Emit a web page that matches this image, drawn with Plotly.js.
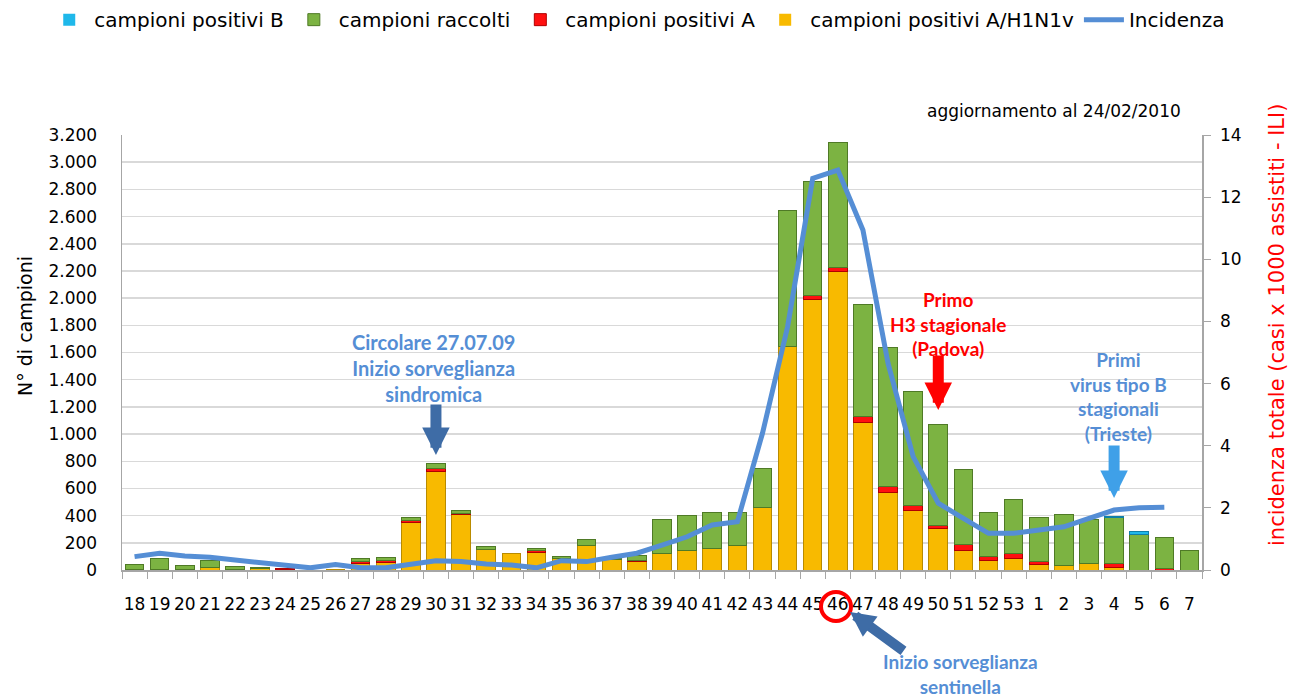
<!DOCTYPE html>
<html>
<head>
<meta charset="utf-8">
<script src="https://cdn.plot.ly/plotly-3.0.1.min.js"></script>
<style>html,body{margin:0;padding:0;background:#fff;}#chart{width:1290px;height:699px;}</style>
</head>
<body>
<div id="chart"></div>
<script>
const weeks = ['18','19','20','21','22','23','24','25','26','27','28','29','30','31','32','33','34','35','36','37','38','39','40','41','42','43','44','45','46','47','48','49','50','51','52','53','1','2','3','4','5','6','7'];
const posH1N1v = [0,0,5,15,5,10,5,0,5,50,55,350,725,405,150,123,130,85,180,75,60,123,140,155,179,458,1643,1993,2195,1086,571,441,306,147,68,86,37,35,50,20,0,0,0];
const posA = [5,5,0,0,0,3,5,0,0,10,12,15,20,12,0,0,12,0,0,0,12,0,0,0,0,0,0,25,30,42,42,37,25,37,30,32,29,0,0,25,0,10,0];
const posB = [0,0,0,0,0,0,0,0,0,0,0,0,0,0,0,0,0,0,0,0,0,0,0,0,0,0,0,0,0,0,0,0,0,0,0,0,0,0,0,10,20,0,0];
const raccolti = [37,81,27,53,20,4,0,0,0,21,26,20,40,18,21,0,17,18,41,11,38,252,260,267,243,287,1000,843,918,826,1022,834,736,559,326,404,321,370,318,342,262,228,147];
const incidenza = [0.43,0.54,0.45,0.41,0.32,0.24,0.18,0.07,0.18,0.07,0.07,0.18,0.30,0.27,0.19,0.16,0.07,0.30,0.27,0.41,0.54,0.80,1.07,1.45,1.55,4.40,7.83,12.6,12.87,10.94,6.65,3.65,2.15,1.66,1.18,1.18,1.29,1.39,1.66,1.93,2.00,2.02,null];

const baseFont = 'DejaVu Sans';
const annFont = 'Lato';
const idx = w => weeks.indexOf(w);

function barTrace(name, vals, fill, edge, rank) {
  return {type:'bar', name:name, x:weeks, y:vals, legendrank:rank,
    marker:{color:fill, line:{color:edge, width:vals.map(v => v > 0 ? 1 : 0)}}, hoverinfo:'skip'};
}

const data = [
  barTrace('campioni positivi A/H1N1v', posH1N1v, '#F8BA00', '#B98B00', 4),
  barTrace('campioni positivi A', posA, '#FF1010', '#B00000', 3),
  barTrace('campioni raccolti', raccolti, '#7CB342', '#4F7A26', 2),
  barTrace('campioni positivi B', posB, '#1FB8EA', '#0F7FA8', 1),
  {type:'scatter', mode:'lines', name:'Incidenza', x:weeks, y:incidenza, yaxis:'y2',
   legendrank:5, line:{color:'#558ED5', width:5}, hoverinfo:'skip'}
];

function ann(px, py, text, size, color, bold, angle) {
  return {xref:'paper', yref:'paper', x:(px-122)/1080, y:(570-py)/435, xanchor:'center', yanchor:'middle',
    text: bold ? '<b>'+text+'</b>' : text, showarrow:false, textangle: angle || 0,
    font:{family: bold ? annFont : baseFont, size:size, color:color}};
}

const layout = {
  width:1290, height:699,
  margin:{l:122, r:88, t:135, b:129, autoexpand:false},
  paper_bgcolor:'#fff', plot_bgcolor:'#fff',
  separators:',.',
  font:{family:baseFont, size:16, color:'#000'},
  barmode:'stack', bargap:0.26,
  showlegend:true,
  legend:{orientation:'h', traceorder:'normal', x:-0.072, xanchor:'left', y:1.31, yanchor:'top',
    font:{family:baseFont, size:20, color:'#000'}, itemwidth:40},
  xaxis:{type:'category', range:[-0.5, 42.5], tickson:'boundaries', ticks:'outside', ticklen:7, tickcolor:'#a6a6a6',
    showline:true, linecolor:'#a6a6a6', linewidth:1.5, showgrid:false, ticklabelstandoff:18,
    tickfont:{family:baseFont, size:17, color:'#000'}, tickangle:0},
  yaxis:{range:[0,3200], dtick:200, tickformat:',d', showline:true, linecolor:'#a6a6a6', linewidth:1.5,
    gridcolor:'#d9d9d9', gridwidth:1.5, ticks:'', zeroline:false, ticklabelstandoff:20,
    tickfont:{family:baseFont, size:17, color:'#000'}},
  yaxis2:{range:[0,14], dtick:2, overlaying:'y', side:'right', showgrid:false, zeroline:false,
    showline:true, linecolor:'#a6a6a6', linewidth:1.5, ticks:'outside', ticklen:7, tickcolor:'#a6a6a6',
    ticklabelstandoff:6,
    tickfont:{family:baseFont, size:17, color:'#000'}},
  annotations:[
    ann(25, 326, 'N° di campioni', 19, '#000', false, -90),
    ann(1277, 325, 'incidenza totale (casi x 1000 assistiti - ILI)', 21, '#FF0000', false, -90),
    ann(1054, 111, 'aggiornamento al 24/02/2010', 17, '#000', false),
    ann(433, 368, 'Circolare 27.07.09<br>Inizio sorveglianza<br>sindromica', 20, '#558ED5', true),
    ann(948, 324, 'Primo<br>H3 stagionale<br>(Padova)', 19, '#FF0000', true),
    ann(1118, 396, 'Primi<br>virus tipo B<br>stagionali<br>(Trieste)', 19, '#558ED5', true),
    ann(960, 674, 'Inizio sorveglianza<br>sentinella', 19, '#558ED5', true),
    {xref:'x', yref:'y', x:idx('30'), y:846, ax:0, ay:-52, text:'', showarrow:true,
     arrowhead:2, arrowsize:0.5, arrowwidth:11, arrowcolor:'#3E6CA6'},
    {xref:'x', yref:'y', x:idx('50'), y:1177, ax:0, ay:-56, text:'', showarrow:true,
     arrowhead:2, arrowsize:0.5, arrowwidth:11, arrowcolor:'#FF0000'},
    {xref:'x', yref:'y', x:idx('4'), y:530, ax:0, ay:-54, text:'', showarrow:true,
     arrowhead:2, arrowsize:0.5, arrowwidth:11, arrowcolor:'#3FA0E8'},
    {xref:'paper', yref:'paper', x:(850-122)/1080, y:(570-612)/435, ax:55, ay:40, text:'', showarrow:true,
     arrowhead:2, arrowsize:0.5, arrowwidth:10, arrowcolor:'#3E6CA6'}
  ],
  shapes:[
    {type:'circle', xref:'paper', yref:'paper', x0:(821-122)/1080, x1:(851-122)/1080,
     y0:(570-621)/435, y1:(570-592)/435, line:{color:'#FF0000', width:4}}
  ]
};

Plotly.newPlot('chart', data, layout, {displayModeBar:false, staticPlot:true});
</script>
</body>
</html>
